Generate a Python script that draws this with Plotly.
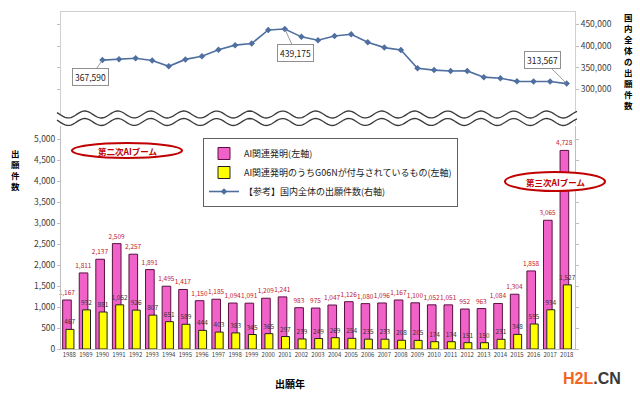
import numpy as np
import plotly.graph_objects as go

# ---------------- data ----------------
years = list(range(1988, 2019))
ai_inventions = [1167, 1811, 2137, 2509, 2257, 1891, 1495, 1417, 1150, 1185,
                 1094, 1091, 1209, 1241, 983, 975, 1047, 1126, 1080, 1096,
                 1167, 1100, 1052, 1051, 952, 963, 1084, 1304, 1858, 3065, 4728]
ai_g06n = [467, 932, 881, 1052, 926, 807, 651, 589, 444, 403,
           383, 345, 365, 297, 239, 249, 269, 254, 235, 233,
           208, 205, 174, 174, 151, 150, 231, 348, 595, 934, 1527]
total_years = list(range(1990, 2019))
total_apps = [367590, 369396, 371894, 366486, 353301, 369215, 376615, 391572,
              401932, 405655, 436865, 439175, 421044, 413092, 423081, 427078,
              408674, 396291, 391002, 348596, 344598, 342610, 342796, 328436,
              325989, 318721, 318381, 318479, 313567]
left_ticks = [0, 500, 1000, 1500, 2000, 2500, 3000, 3500, 4000, 4500, 5000]
right_ticks = [300000, 350000, 400000, 450000]
labeled_years = [1990, 2001, 2018]

W, H = 640, 395
def fx(px): return px / W
def fy(py): return 1 - py / H

FONT = "Noto Sans CJK JP"
PINK = "#F062C8"
YELLOW = "#FFFF00"
LINEC = "#4F6FA0"
DARKRED = "#C0202A"

fig = go.Figure()

fig.add_trace(go.Bar(
    x=years, y=ai_inventions, name="AI関連発明(左軸)",
    marker=dict(color=PINK, line=dict(color="#5A1040", width=1)),
    width=0.52, offset=-0.4,
    text=[f"{v:,}" for v in ai_inventions], textposition="outside",
    textfont=dict(size=6.5, color=DARKRED, family=FONT),
    constraintext="none", cliponaxis=False,
    xaxis="x", yaxis="y"))
fig.add_trace(go.Bar(
    x=years, y=ai_g06n, name="AI関連発明のうちG06Nが付与されているもの(左軸)",
    marker=dict(color=YELLOW, line=dict(color="#222222", width=1)),
    width=0.48, offset=-0.2,
    text=[f"{v:,}" for v in ai_g06n], textposition="outside",
    textfont=dict(size=6.5, color="#333333", family=FONT),
    constraintext="none", cliponaxis=False,
    xaxis="x", yaxis="y"))
fig.add_trace(go.Scatter(
    x=total_years, y=total_apps, name="【参考】国内全体の出願件数(右軸)",
    mode="lines+markers",
    line=dict(color=LINEC, width=1.6),
    marker=dict(symbol="diamond", size=5, color=LINEC),
    xaxis="x2", yaxis="y2"))

# ---- axes ----
xdom = [fx(61), fx(575)]
bot_top_px, zero_px = 126, 349
ppu = 210 / 5000
top_px, top_bot_px = 12, 124
rppu = 0.000435
r300 = 89.5

fig.update_layout(
    width=W, height=H,
    margin=dict(l=0, r=0, t=0, b=0, pad=0, autoexpand=False),
    paper_bgcolor="white", plot_bgcolor="white",
    font=dict(family=FONT, color="#404040"),
    barmode="overlay", showlegend=True,
    xaxis=dict(domain=xdom, range=[1987.5, 2018.5], anchor="y", automargin=False,
               tickvals=years, ticktext=[str(y) for y in years], tickangle=0,
               tickfont=dict(size=6, color="#404040"),
               showline=True, linecolor="#BFBFBF", linewidth=1,
               ticks="", showgrid=False, zeroline=False, fixedrange=True),
    yaxis=dict(domain=[fy(zero_px), fy(bot_top_px)], automargin=False,
               range=[0, (zero_px - bot_top_px) / ppu], anchor="x",
               tickvals=left_ticks, tickformat=",",
               tickfont=dict(size=8.5, color="#404040"),
               ticks="outside", ticklen=3, tickcolor="#BFBFBF",
               showline=True, linecolor="#BFBFBF", linewidth=1, mirror="ticks",
               showgrid=False, zeroline=False),
    xaxis2=dict(domain=xdom, range=[1987.5, 2018.5], anchor="y2", side="top",
                automargin=False,
                showticklabels=False, ticks="", showline=True,
                linecolor="#D0D0D0", linewidth=1, showgrid=False, zeroline=False),
    yaxis2=dict(domain=[fy(top_bot_px), fy(top_px)], automargin=False,
                range=[300000 - (top_bot_px - r300) / rppu,
                       300000 + (r300 - top_px) / rppu],
                anchor="x2", side="right",
                tickvals=right_ticks, tickformat=",",
                tickfont=dict(size=8.5, color="#404040"),
                ticks="outside", ticklen=3, tickcolor="#BFBFBF",
                showline=True, linecolor="#D0D0D0", linewidth=1, mirror="ticks",
                showgrid=False, zeroline=False),
    legend=dict(x=fx(203), y=fy(138), xanchor="left", yanchor="top",
                bordercolor="#606060", borderwidth=1, bgcolor="white",
                font=dict(size=9, color="#202020", family=FONT),
                tracegroupgap=0, itemwidth=30),
)

shapes = []
# ---- wavy break lines ----
xs = np.linspace(57, 577, 260)
def wave(c):
    return c + 3.5 * np.sin(2 * np.pi * (xs - 60) / 33.0)
w1, w2 = wave(114.5), wave(122)
poly = "M " + " L ".join(f"{fx(a):.5f},{fy(b):.5f}" for a, b in zip(xs, w1 - 0.5))
poly += " L " + " L ".join(f"{fx(a):.5f},{fy(b):.5f}" for a, b in zip(xs[::-1], (w2 + 0.5)[::-1])) + " Z"
shapes.append(dict(type="path", xref="paper", yref="paper", path=poly,
                   fillcolor="white", line=dict(width=0), layer="above"))
for wv in (w1, w2):
    p = "M " + " L ".join(f"{fx(a):.5f},{fy(b):.5f}" for a, b in zip(xs, wv))
    shapes.append(dict(type="path", xref="paper", yref="paper", path=p,
                       line=dict(color="#3A3A3A", width=1.3), layer="above"))

# ---- ellipses ----
shapes.append(dict(type="circle", xref="paper", yref="paper",
                   x0=fx(72), x1=fx(182), y0=fy(158), y1=fy(143),
                   line=dict(color="#C00000", width=2), fillcolor="white", layer="above"))
shapes.append(dict(type="circle", xref="paper", yref="paper",
                   x0=fx(505), x1=fx(605), y0=fy(191), y1=fy(172),
                   line=dict(color="#C00000", width=2), fillcolor="white", layer="above"))
fig.update_layout(shapes=shapes)

def note(px, py, text, size, color="#000000", family=None, xa="center", ya="middle"):
    f = dict(size=size, color=color)
    if family:
        f["family"] = family
    return dict(x=fx(px), y=fy(py), xref="paper", yref="paper", showarrow=False,
                xanchor=xa, yanchor=ya, text=text, font=f)

ann = []
ann.append(note(127, 150.5, "<b>第二次AIブーム</b>", 8.5, "#C00000"))
ann.append(note(555, 181.5, "<b>第三次AIブーム</b>", 8.5, "#C00000"))

# ---- line data labels ----
offsets = {1990: (-12, 17), 2001: (11, 24), 2018: (-24, -24)}
for yr in labeled_years:
    v = total_apps[total_years.index(yr)]
    ax, ay = offsets[yr]
    ann.append(dict(x=yr, y=v, xref="x2", yref="y2", text=f"{v:,}",
                    showarrow=True, arrowhead=0, arrowwidth=0.8, arrowcolor="#808080",
                    ax=ax, ay=ay, bgcolor="white", bordercolor="#909090",
                    borderwidth=1, borderpad=2,
                    font=dict(size=8.5, color="#202020")))

# ---- axis titles (vertical stacked) ----
ann.append(note(15, 145, "<br>".join("<b>%s</b>" % c for c in "出願件数"), 8.5, ya="top"))
ann.append(note(628, 9, "<br>".join("<b>%s</b>" % c for c in "国内全体の出願件数"), 8.5, ya="top"))
ann.append(note(290, 383, "<b>出願年</b>", 10))
ann.append(note(592, 378, "<b><span style='color:#F26522'>H2L</span><span style='color:#3A3A3A'>.CN</span></b>",
                16, family="Liberation Sans"))
fig.update_layout(annotations=ann)

fig.write_html("out.html", config={"displayModeBar": False},
               post_script="document.body.style.margin='0';")
